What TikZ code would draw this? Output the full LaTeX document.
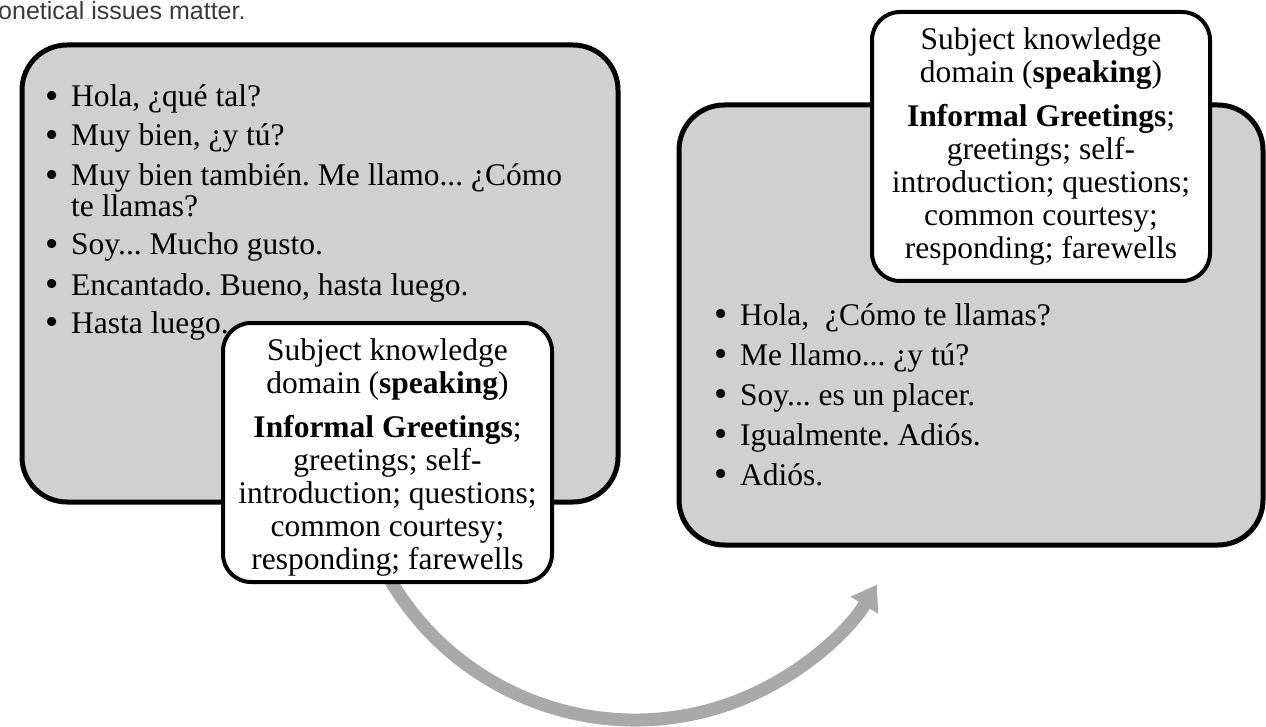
\documentclass[tikz,border=0pt]{standalone}
\usepackage{fontspec}
\setmainfont{Liberation Serif}
\newfontfamily\notefont{Liberation Sans}
\usetikzlibrary{arrows.meta}
\definecolor{boxgray}{HTML}{D0D0D0}
\definecolor{arrowgray}{HTML}{A9A9A9}
\definecolor{notegray}{HTML}{3A3A3A}
\frenchspacing
\newcommand\skdcontent[1]{\begin{tabular}{@{}c@{}}\rule{0pt}{#1}Subject knowledge\\ domain (\textbf{speaking})\\[11pt] \textbf{Informal Greetings};\\ greetings; self-\\ introduction; questions;\\ common courtesy;\\ responding; farewells\end{tabular}}
\newcommand\bul{\llap{\raisebox{-1.7pt}{\scalebox{1.2}{\textbullet}}\hspace{12.5pt}}}
\begin{document}
\begin{tikzpicture}[x=1pt,y=-1pt,
  bigbox/.style={draw=black, line width=5pt, fill=boxgray, rounded corners=45pt, inner sep=0pt},
  whitebox/.style={draw=black, line width=4pt, fill=white, rounded corners=28pt, inner sep=0pt, font=\fontsize{31.5}{33}\selectfont},
  listitem/.style={anchor=base west, inner sep=0pt, font=\fontsize{31.5}{31}\selectfont},
  flow/.style={draw=arrowgray, line width=13pt, -{Triangle[length=24pt,width=31pt]}},
  note/.style={anchor=base west, inner sep=0pt, text=notegray, font=\notefont\fontsize{25}{28}\selectfont}]
\useasboundingbox (0,0) rectangle (1266,727);
\clip (0,0) rectangle (1266,727);
\node[note] (note) at (-2,20) {onetical issues matter.};
% left big box
\node[bigbox, minimum width=596pt, minimum height=457pt] (leftbox) at (320,273.5) {};
\node[listitem] (l1) at (71,107) {\bul Hola, ¿qué tal?};
\node[listitem] (l2) at (71,146) {\bul Muy bien, ¿y tú?};
\node[listitem] (l3) at (71,186) {\bul Muy bien también. Me llamo... ¿Cómo};
\node[listitem] (l3b) at (71,217) {te llamas?};
\node[listitem] (l4) at (71,255) {\bul Soy... Mucho gusto.};
\node[listitem] (l5) at (71,295) {\bul Encantado. Bueno, hasta luego.};
\node[listitem] (l6) at (71,333) {\bul Hasta luego.};
% right big box
\node[bigbox, minimum width=584pt, minimum height=440pt] (rightbox) at (971,325) {};
\node[listitem] (r1) at (740,325) {\bul Hola,~ ¿Cómo te llamas?};
\node[listitem] (r2) at (740,365) {\bul Me llamo... ¿y tú?};
\node[listitem] (r3) at (740,405) {\bul Soy... es un placer.};
\node[listitem] (r4) at (740,445) {\bul Igualmente. Adiós.};
\node[listitem] (r5) at (740,485) {\bul Adiós.};
% arrow
\coordinate (arcstart) at (377.6,556);
\draw[flow] (arcstart) arc[start angle=155, end angle=31.6, radius=284];
% white boxes
\node[whitebox, minimum width=329pt, minimum height=259pt] (leftskd) at (387.5,452.5) {\skdcontent{33.9pt}};
\node[whitebox, minimum width=338pt, minimum height=269pt] (rightskd) at (1041,146.5) {\skdcontent{25.9pt}};
\end{tikzpicture}
\end{document}
